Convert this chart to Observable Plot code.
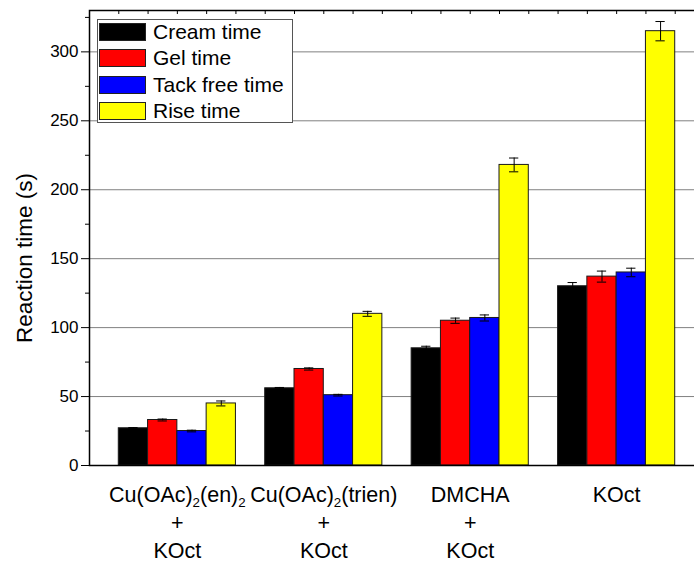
<!DOCTYPE html>
<html><head><meta charset="utf-8">
<script src="https://cdn.jsdelivr.net/npm/d3@7"></script>
<script src="https://cdn.jsdelivr.net/npm/@observablehq/plot@0.6"></script>
<style>
html,body{margin:0;padding:0;background:#fff;overflow:hidden;}
#wrap{position:relative;width:694px;height:565px;overflow:hidden;font-family:"Liberation Sans",Arial,sans-serif;}
#wrap svg{max-width:none !important;display:block;}
#legend{position:absolute;left:97px;top:19px;width:196px;height:104px;box-sizing:border-box;border:1px solid #555;background:#fff;}
.row{position:absolute;left:1px;height:18px;display:flex;align-items:center;}
.sw{width:47px;height:18px;border:1px solid #222;box-sizing:border-box;}
.lab{margin-left:7px;font-size:21px;line-height:18px;color:#000;white-space:nowrap;}
</style></head><body><div id="wrap"></div>
<script>
const groups = ["Cu(OAc)₂(en)₂\n+\nKOct", "Cu(OAc)₂(trien)\n+\nKOct", "DMCHA\n+\nKOct", "KOct"];
const series = ["Cream time", "Gel time", "Tack free time", "Rise time"];
const colors = ["#000000", "#ff0000", "#0000ff", "#ffff00"];
const creamTime    = [27, 56, 85, 130];
const gelTime      = [33, 70, 105, 137];
const tackFreeTime = [25, 51, 107, 140];
const riseTime     = [45, 110, 218, 315];
const creamErr = [0.5, 0.6, 1.5, 2.7];
const gelErr   = [0.7, 0.8, 1.9, 4];
const tackErr  = [0.6, 0.6, 2.2, 3.1];
const riseErr  = [1.8, 1.8, 5, 7];
const yTicks = [0, 50, 100, 150, 200, 250, 300];
const yMinorTicks = [25, 75, 125, 175, 225, 275, 325];
const yTitle = "Reaction time (s)";

// Origin-style numeric x axis: each bar is one unit wide, groups of 4 bars separated by one unit
const slot = series.length + 1;
const values = [creamTime, gelTime, tackFreeTime, riseTime];
const errs = [creamErr, gelErr, tackErr, riseErr];
const data = [];
groups.forEach((g, i) => series.forEach((s, j) =>
  data.push({group: g, series: s, pos: i * slot + j + 1, value: values[j][i], err: errs[j][i]})));
const groupCenters = groups.map((g, i) => i * slot + 1 + series.length / 2);
const unitTicks = d3.range(1, groups.length * slot + 1);
const xMax = groups.length * slot + 1;

const chart = Plot.plot({
  width: 706, height: 565,
  marginLeft: 89, marginRight: 2, marginTop: 10, marginBottom: 100,
  style: {fontFamily: "'Liberation Sans', Arial, sans-serif", background: "white", color: "black", maxWidth: "none"},
  x: {domain: [0, xMax]},
  y: {domain: [0, 330]},
  color: {domain: series, range: colors},
  marks: [
    Plot.gridY({ticks: yTicks.slice(1), stroke: "#808080", strokeOpacity: 1, strokeWidth: 1}),
    Plot.rectY(data, {x1: "pos", x2: d => d.pos + 1, y1: 0, y2: "value", fill: "series", stroke: "#1a1a1a", strokeWidth: 1}),
    Plot.ruleX(data, {x: d => d.pos + 0.5, y1: d => d.value - d.err, y2: d => d.value + d.err, stroke: "#000", strokeWidth: 1}),
    Plot.ruleY(data, {x1: "pos", x2: d => d.pos + 1, y: d => d.value + d.err, insetLeft: 10, insetRight: 10, stroke: "#000"}),
    Plot.ruleY(data, {x1: "pos", x2: d => d.pos + 1, y: d => d.value - d.err, insetLeft: 10, insetRight: 10, stroke: "#000"}),
    Plot.axisY({ticks: yTicks, tickSize: 8, tickPadding: 3, fontSize: 17, label: null}),
    Plot.axisY({ticks: yMinorTicks.filter(t => t < 330), tickSize: 4, tickFormat: () => "", label: null}),
    Plot.axisX({ticks: groupCenters, tickFormat: d => groups[groupCenters.indexOf(d)], tickSize: 0, tickPadding: 17, fontSize: 21.5, lineHeight: 1.3, label: null}),
    Plot.axisX({anchor: "top", ticks: unitTicks, tickSize: -3, tickFormat: () => "", label: null}),
    Plot.frame({stroke: "#000", strokeWidth: 1.5}),
    Plot.text([yTitle], {text: d => d, frameAnchor: "left", textAnchor: "middle", lineAnchor: "middle", rotate: -90, dx: -65, dy: 20, fontSize: 22.5})
  ]
});

// subscripts for the "₂" characters
const walker = document.createTreeWalker(chart, NodeFilter.SHOW_TEXT);
const nodes = [];
while (walker.nextNode()) if (walker.currentNode.nodeValue.includes("₂")) nodes.push(walker.currentNode);
const NS = "http://www.w3.org/2000/svg";
nodes.forEach(n => {
  const parts = n.nodeValue.split("₂");
  const frag = document.createDocumentFragment();
  parts.forEach((p, k) => {
    if (p) frag.appendChild(document.createTextNode(p));
    if (k < parts.length - 1) {
      const t = document.createElementNS(NS, "tspan");
      t.setAttribute("baseline-shift", "-35%");
      t.setAttribute("font-size", "0.62em");
      t.textContent = "2";
      frag.appendChild(t);
    }
  });
  n.parentNode.replaceChild(frag, n);
});

const wrap = document.getElementById("wrap");
wrap.appendChild(chart);

const legend = document.createElement("div");
legend.id = "legend";
series.forEach((s, j) => {
  const row = document.createElement("div");
  row.className = "row";
  row.style.top = (3 + j * 26.4) + "px";
  const sw = document.createElement("div");
  sw.className = "sw";
  sw.style.background = colors[j];
  const lab = document.createElement("span");
  lab.className = "lab";
  lab.textContent = s;
  row.appendChild(sw); row.appendChild(lab);
  legend.appendChild(row);
});
wrap.appendChild(legend);
</script></body></html>
